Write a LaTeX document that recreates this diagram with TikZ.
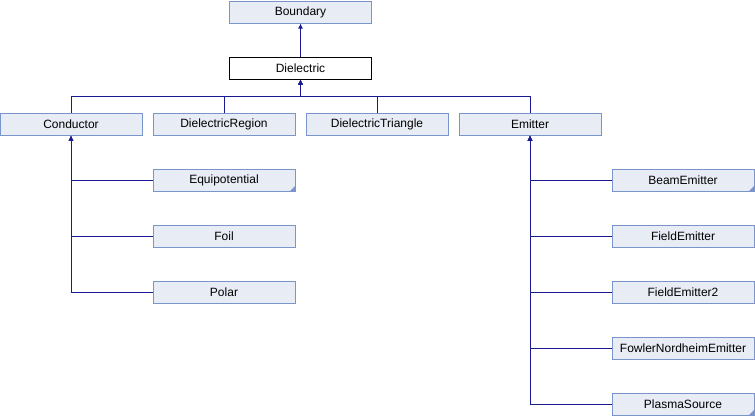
\documentclass[tikz,border=0pt]{standalone}
\usepackage{fontspec}
\setmainfont{Liberation Sans}
\definecolor{boxfill}{RGB}{232,236,244}
\definecolor{boxline}{RGB}{122,148,204}
\definecolor{edgeblue}{RGB}{25,25,145}
\tikzset{
  cls/.style={draw=boxline, fill=boxfill, line width=1pt, minimum width=142pt,
    minimum height=22pt, inner sep=0pt, font=\fontsize{12}{14}\selectfont},
  curcls/.style={cls, draw=black, fill=white},
  folded/.style={path picture={\fill[boxline] (path picture bounding box.south east)
    -- ++(-5pt,0pt) -- ++(5pt,5pt) -- cycle;}},
  edge/.style={draw=edgeblue, line width=1pt, -{Latex[length=5pt,width=5pt]}}
}
\usetikzlibrary{arrows.meta}
\begin{document}
\begin{tikzpicture}[x=1pt, y=-1pt]
				\useasboundingbox (0,0) rectangle (755,416);

				% Base classes
				\node[cls] (boundary) at (300.5,12) {Boundary};
				\node[curcls] (dielectric) at (300.5,68) {Dielectric};

				% Derived from Dielectric
				\node[cls] (conductor) at (71,124) {Conductor};
				\node[cls] (dielregion) at (224,124) {DielectricRegion};
				\node[cls] (dieltriangle) at (377,124) {DielectricTriangle};
				\node[cls] (emitter) at (530,124) {Emitter};
				\coordinate (bus) at (300.5,96);

				% Derived from Conductor
				\node[cls, folded] (equipotential) at (224,180) {Equipotential};
				\node[cls] (foil) at (224,236) {Foil};
				\node[cls] (polar) at (224,292) {Polar};

				% Derived from Emitter
				\node[cls, folded] (beamemitter) at (683,180) {BeamEmitter};
				\node[cls] (fieldemitter) at (683,236) {FieldEmitter};
				\node[cls] (fieldemitter2) at (683,292) {FieldEmitter2};
				\node[cls] (fowlernordheim) at (683,348) {FowlerNordheimEmitter};
				\node[cls, folded] (plasmasource) at (683,404) {PlasmaSource};

				% Inheritance
				\draw[edge] (dielectric) -- (boundary);
				\draw[edge] (conductor.north) |- (bus) -- (dielectric.south);
				\draw[edge] (dielregion.north) |- (bus) -- (dielectric.south);
				\draw[edge] (dieltriangle.north) |- (bus) -- (dielectric.south);
				\draw[edge] (emitter.north) |- (bus) -- (dielectric.south);
				\draw[edge] (equipotential.west) -| (conductor.south);
				\draw[edge] (foil.west) -| (conductor.south);
				\draw[edge] (polar.west) -| (conductor.south);
				\draw[edge] (beamemitter.west) -| (emitter.south);
				\draw[edge] (fieldemitter.west) -| (emitter.south);
				\draw[edge] (fieldemitter2.west) -| (emitter.south);
				\draw[edge] (fowlernordheim.west) -| (emitter.south);
				\draw[edge] (plasmasource.west) -| (emitter.south);
			\end{tikzpicture}
\end{document}
